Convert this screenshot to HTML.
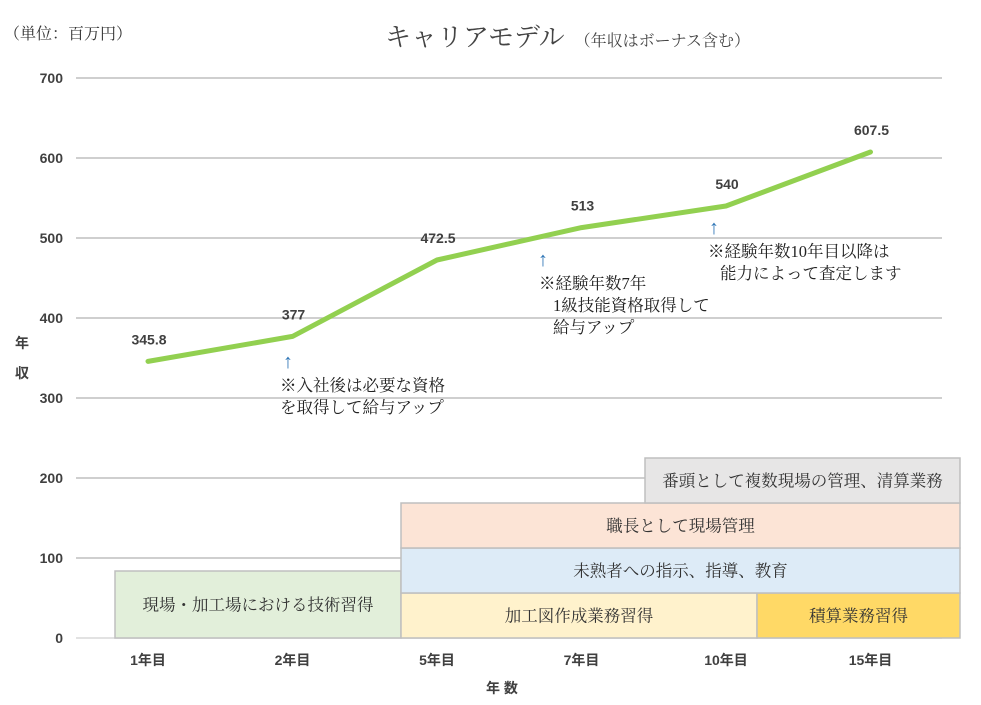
<!DOCTYPE html>
<html><head><meta charset="utf-8"><style>
body{margin:0;background:#fff;}
svg{display:block;font-family:"Liberation Serif","Noto Serif CJK SC","Noto Sans CJK JP",serif;}
.b{font-family:"Liberation Sans","Noto Sans CJK JP",sans-serif;font-weight:bold;fill:#404040;font-size:14px;}
.n{font-size:16.5px;fill:#222;}
</style></head><body>
<svg id="c" width="981" height="705">
<text x="4" y="39" font-size="16" fill="#333">（単位：百万円）</text>
<text x="385" y="46" font-size="26" fill="#444">キャリアモデル<tspan font-size="16" dx="10">（年収はボーナス含む）</tspan></text>
<g id="grid"></g>
<g id="boxes"></g>
<g id="xl"></g>
<text x="15" y="348" class="b">年</text>
<text x="15" y="378" class="b">収</text>
<text x="486" y="693" class="b">年 数</text>
<path id="line" fill="none" stroke="#92d050" stroke-width="5" stroke-linejoin="round" stroke-linecap="round"></path>
<g id="lbl"></g>
<g class="n">
<text x="283" y="368" fill="#2e75b6" font-size="20">↑</text>
<text x="280" y="391">※入社後は必要な資格</text>
<text x="280" y="413">を取得して給与アップ</text>
<text x="538" y="266" fill="#2e75b6" font-size="20">↑</text>
<text x="539" y="289">※経験年数7年</text>
<text x="553" y="311">1級技能資格取得して</text>
<text x="553" y="333">給与アップ</text>
<text x="709" y="234" fill="#2e75b6" font-size="20">↑</text>
<text x="708" y="257">※経験年数10年目以降は</text>
<text x="720" y="279">能力によって査定します</text>
</g>
</svg>
<script>
const categories=["1年目","2年目","5年目","7年目","10年目","15年目"];
const values=[345.8,377,472.5,513,540,607.5];
const valueLabels=["345.8","377","472.5","513","540","607.5"];
const yTicks=[0,100,200,300,400,500,600,700];
const NS="http://www.w3.org/2000/svg";
const X=i=>148+i*144.5, Y=v=>638-v*0.8;
function mk(t,a,p){const e=document.createElementNS(NS,t);for(const k in a)e.setAttribute(k,a[k]);p.appendChild(e);return e;}
const g=document.getElementById('grid');
yTicks.forEach(v=>{
 const l=mk('line',{x1:76,x2:942,y1:Y(v),y2:Y(v),stroke:v==0?'#d9d9d9':'#bfbfbf','stroke-width':1.5},g);
 
 
 const t=mk('text',{x:63,y:Y(v)+5,'text-anchor':'end',class:'b'},g);t.textContent=v;
 
 
});
const bx=document.getElementById('boxes');
[[115,571,286,67,'#e2efda','現場・加工場における技術習得'],[401,593,356,45,'#fff2cc','加工図作成業務習得'],[757,593,203,45,'#ffd966','積算業務習得'],[401,548,559,45,'#ddebf7','未熟者への指示、指導、教育'],[401,503,559,45,'#fce4d6','職長として現場管理'],[645,458,315,45,'#e7e6e6','番頭として複数現場の管理、清算業務']].forEach(b=>{
 const r=mk('rect',{x:b[0],y:b[1],width:b[2],height:b[3],fill:b[4],stroke:'#bfbfbf','stroke-width':1.5},bx);
 
 
 const t=mk('text',{x:b[0]+b[2]/2,y:b[1]+b[3]/2+6,'text-anchor':'middle','font-size':16.5,fill:'#333'},bx);t.textContent=b[5];
});
const xl=document.getElementById('xl');
categories.forEach((c,i)=>{const t=mk('text',{x:X(i),y:665,'text-anchor':'middle',class:'b'},xl);t.textContent=c;
 
 });
document.getElementById('line').setAttribute('d',values.map((v,i)=>(i?'L':'M')+X(i)+' '+Y(v)).join(' '));
const lb=document.getElementById('lbl');
values.forEach((v,i)=>{const t=mk('text',{x:X(i)+1,y:Y(v)-17,'text-anchor':'middle',class:'b'},lb);t.textContent=valueLabels[i];
 
 });
</script>
</body></html>
